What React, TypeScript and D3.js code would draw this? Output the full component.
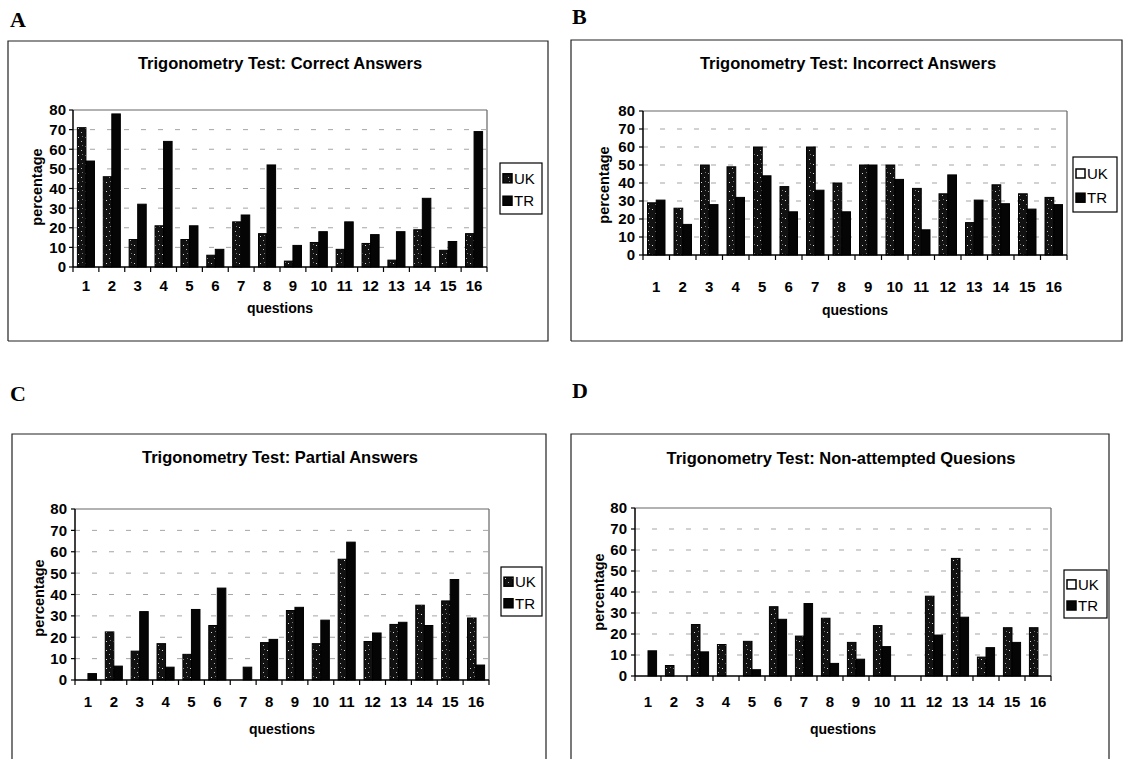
import React from 'react';
import * as d3 from 'd3';

const questions = ['1', '2', '3', '4', '5', '6', '7', '8', '9', '10', '11', '12', '13', '14', '15', '16'];
const yTicks = [0, 10, 20, 30, 40, 50, 60, 70, 80];
const seriesNames = ['UK', 'TR'];

const correctUK = [71, 46, 14, 21, 14, 6, 23, 17, 3, 12.5, 9, 12, 3.5, 19, 8.5, 17];
const correctTR = [54, 78, 32, 64, 21, 9, 26.5, 52, 11, 18, 23, 16.5, 18, 35, 13, 69];
const incorrectUK = [29, 26, 50, 49, 60, 38, 60, 40, 50, 50, 37, 34, 18, 39, 34, 32];
const incorrectTR = [30.5, 17, 28, 32, 44, 24, 36, 24, 50, 42, 14, 44.5, 30.5, 28.5, 25.5, 28];
const partialUK = [0, 22.5, 13.5, 17, 12, 25.5, 0, 17.5, 32.5, 17, 56.5, 18, 26, 35, 37, 29];
const partialTR = [3, 6.5, 32, 6, 33, 43, 6, 19, 34, 28, 64.5, 22, 27, 25.5, 47, 7];
const nonAttemptedUK = [0, 5, 24.5, 15, 16.5, 33, 19, 27.5, 16, 24, 0, 38, 56, 9, 23, 23];
const nonAttemptedTR = [12, 0, 11.5, 0, 3, 27, 34.5, 6, 8, 14, 0, 19.5, 28, 13.5, 16, 0];

const panelLetters = ['A', 'B', 'C', 'D'];
const panelTitles = [
  'Trigonometry Test: Correct Answers',
  'Trigonometry Test: Incorrect Answers',
  'Trigonometry Test: Partial Answers',
  'Trigonometry Test: Non-attempted Quesions',
];
const yAxisTitle = 'percentage';
const xAxisTitle = 'questions';

const panelData = [
  [correctUK, correctTR],
  [incorrectUK, incorrectTR],
  [partialUK, partialTR],
  [nonAttemptedUK, nonAttemptedTR],
];

// layout (positions / sizes only)
const layouts = [
  { letter: [10, 27], frame: [8, 41, 548, 341], title: [280, 69], plot: [73, 487, 110, 267], tickRight: 66, yLab: [37, 187], xLabY: 291, qY: 313, legend: [500, 163, 42, 51], hollow: false },
  { letter: [572, 24], frame: [571, 40, 1122, 341], title: [848, 69], plot: [643, 1067, 111, 255], tickRight: 635, yLab: [604, 185], xLabY: 292, qY: 315, legend: [1073, 157, 44, 55], hollow: true },
  { letter: [10, 401], frame: [12, 434, 546, 775], title: [280, 463], plot: [75, 489, 509, 680], tickRight: 67, yLab: [39, 598], xLabY: 707, qY: 734, legend: [501, 567, 41, 49], hollow: false },
  { letter: [572, 398], frame: [571, 434, 1109, 775], title: [841, 464], plot: [635, 1051, 508, 676], tickRight: 627, yLab: [599, 592], xLabY: 707, qY: 734, legend: [1064, 570, 43, 48], hollow: true },
];

const SANS = '"Liberation Sans", Arial, Helvetica, sans-serif';
const SERIF = '"Liberation Serif", "Times New Roman", serif';

function Panel({ idx }: { idx: number }) {
  const L = layouts[idx];
  const [uk, tr] = panelData[idx];
  const [l, r, t, b] = L.plot;
  const x = d3.scaleBand<string>().domain(questions).range([l, r]).paddingInner(0).paddingOuter(0);
  const y = d3.scaleLinear().domain([0, 80]).range([b, t]);
  const bw = x.bandwidth() * 0.33;
  const [fx0, fy0, fx1, fy1] = L.frame;
  const [lx, ly, lw, lh] = L.legend;
  const tickEdges = questions.map((q) => x(q) as number).concat([r]);
  return (
    <g>
      <text x={L.letter[0]} y={L.letter[1]} fontFamily={SERIF} fontWeight="bold" fontSize={22} fill="#000">
        {panelLetters[idx]}
      </text>
      <path d={`M${fx0},${fy1} L${fx0},${fy0} L${fx1},${fy0} L${fx1},${fy1} L${fx0},${fy1}`} fill="none" stroke="#222" strokeWidth={1.2} />
      <text x={L.title[0]} y={L.title[1]} textAnchor="middle" fontFamily={SANS} fontWeight="bold" fontSize={16.5} fill="#000">
        {panelTitles[idx]}
      </text>
      {/* gridlines */}
      {yTicks.filter((v) => v > 0 && v < 80).map((v) => (
        <line key={v} x1={l} x2={r} y1={y(v)} y2={y(v)} stroke="#a5a5a5" strokeWidth={1} strokeDasharray="5 12" />
      ))}
      <line x1={l} x2={r} y1={y(80)} y2={y(80)} stroke="#666" strokeWidth={1.2} />
      <line x1={r} x2={r} y1={y(80)} y2={y(0)} stroke="#666" strokeWidth={1.2} />
      {/* bars */}
      {questions.map((q, i) => {
        const c = (x(q) as number) + x.bandwidth() / 2;
        return (
          <g key={q}>
            {uk[i] > 0 && (
              <rect x={c - bw} y={y(uk[i])} width={bw} height={y(0) - y(uk[i])} fill="url(#speckle)" stroke="#000" strokeWidth={1} />
            )}
            {tr[i] > 0 && (
              <rect x={c} y={y(tr[i])} width={bw} height={y(0) - y(tr[i])} fill="#050505" stroke="#000" strokeWidth={1} />
            )}
          </g>
        );
      })}
      {/* axes */}
      <line x1={l} x2={l} y1={y(80)} y2={y(0)} stroke="#000" strokeWidth={1.5} />
      <line x1={l} x2={r} y1={y(0)} y2={y(0)} stroke="#000" strokeWidth={1.5} />
      {yTicks.map((v) => (
        <g key={v}>
          <line x1={l - 4} x2={l} y1={y(v)} y2={y(v)} stroke="#000" strokeWidth={1.2} />
          <text x={L.tickRight} y={y(v)} dy="0.36em" textAnchor="end" fontFamily={SANS} fontWeight="bold" fontSize={15} fill="#000">
            {v}
          </text>
        </g>
      ))}
      {tickEdges.map((e, i) => (
        <line key={i} x1={e} x2={e} y1={y(0)} y2={y(0) + 5} stroke="#000" strokeWidth={1.2} />
      ))}
      {questions.map((q) => (
        <text key={q} x={(x(q) as number) + x.bandwidth() / 2} y={L.xLabY} textAnchor="middle" fontFamily={SANS} fontWeight="bold" fontSize={15} fill="#000">
          {q}
        </text>
      ))}
      <text transform={`translate(${L.yLab[0]},${L.yLab[1]}) rotate(-90)`} dy="0.35em" textAnchor="middle" fontFamily={SANS} fontWeight="bold" fontSize={14.5} fill="#000">
        {yAxisTitle}
      </text>
      <text x={(l + r) / 2} y={L.qY} textAnchor="middle" fontFamily={SANS} fontWeight="bold" fontSize={14} fill="#000">
        {xAxisTitle}
      </text>
      {/* legend */}
      <rect x={lx} y={ly} width={lw} height={lh} fill="#fff" stroke="#000" strokeWidth={1.2} />
      {seriesNames.map((s, k) => {
        const cy = ly + (k === 0 ? lh * 0.3 : lh * 0.74);
        const fill = k === 0 ? (L.hollow ? '#fff' : 'url(#speckle)') : '#050505';
        return (
          <g key={s}>
            <rect x={lx + 3} y={cy - 4.5} width={9} height={9} fill={fill} stroke="#000" strokeWidth={1.5} />
            <text x={lx + 14} y={cy} dy="0.36em" fontFamily={SANS} fontSize={15} fill="#000">
              {s}
            </text>
          </g>
        );
      })}
    </g>
  );
}

export default function App() {
  return (
    <svg width={1127} height={759} style={{ position: 'absolute', left: 0, top: 0, background: '#fff' }}>
      <defs>
        <pattern id="speckle" width={7} height={9} patternUnits="userSpaceOnUse">
          <rect width={7} height={9} fill="#111" />
          <rect x={1} y={2} width={1} height={1} fill="#fff" opacity={0.85} />
          <rect x={4} y={6} width={1} height={1} fill="#fff" opacity={0.7} />
          <rect x={5} y={1} width={1} height={1} fill="#ddd" opacity={0.5} />
        </pattern>
      </defs>
      <rect width={1127} height={759} fill="#fff" />
      {[0, 1, 2, 3].map((i) => (
        <Panel key={i} idx={i} />
      ))}
    </svg>
  );
}
